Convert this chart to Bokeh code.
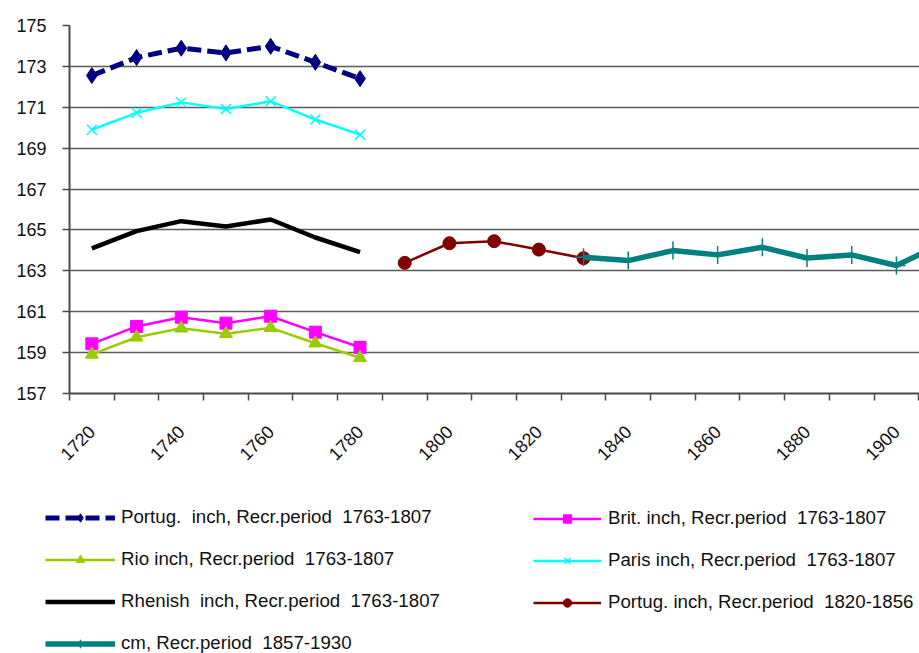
from math import pi
from bokeh.plotting import figure
from bokeh.layouts import column
from bokeh.models import FixedTicker, Legend, LegendItem, Range1d
from bokeh.embed import file_html
from bokeh.resources import INLINE

# ---- data ----
years_1763 = [1720, 1730, 1740, 1750, 1760, 1770, 1780]
portug_1763 = [172.55, 173.43, 173.89, 173.66, 173.98, 173.20, 172.40]
brit_1763 = [159.43, 160.28, 160.73, 160.44, 160.78, 160.00, 159.26]
rio_1763 = [158.91, 159.75, 160.19, 159.92, 160.21, 159.46, 158.75]
paris_1763 = [169.90, 170.73, 171.24, 170.92, 171.29, 170.40, 169.66]
rhenish_1763 = [164.10, 164.94, 165.43, 165.17, 165.51, 164.63, 163.91]

years_1820 = [1790, 1800, 1810, 1820, 1830]
portug_1820 = [163.39, 164.35, 164.45, 164.04, 163.62]

years_cm = [1830, 1840, 1850, 1860, 1870, 1880, 1890, 1900, 1910]
cm_1857 = [163.67, 163.50, 163.99, 163.78, 164.15, 163.63, 163.78, 163.26, 164.30]

all_years = list(range(1720, 1911, 10))
x_tick_labels = [1720, 1740, 1760, 1780, 1800, 1820, 1840, 1860, 1880, 1900]
y_ticks = [157, 159, 161, 163, 165, 167, 169, 171, 173, 175]

labels = [
    "Portug.  inch, Recr.period  1763-1807",
    "Brit. inch, Recr.period  1763-1807",
    "Rio inch, Recr.period  1763-1807",
    "Paris inch, Recr.period  1763-1807",
    "Rhenish  inch, Recr.period  1763-1807",
    "Portug. inch, Recr.period  1820-1856",
    "cm, Recr.period  1857-1930",
]

series = [
    dict(x=years_1763, y=portug_1763, color="#000080", lw=5, dash="14 6", marker="diamond", size=16),
    dict(x=years_1763, y=brit_1763, color="#FF00FF", lw=2.5, dash="solid", marker="square", size=12),
    dict(x=years_1763, y=rio_1763, color="#99CC00", lw=2.5, dash="solid", marker="triangle", size=13),
    dict(x=years_1763, y=paris_1763, color="#00FFFF", lw=2.5, dash="solid", marker="x", size=14),
    dict(x=years_1763, y=rhenish_1763, color="#000000", lw=4.5, dash="solid", marker=None, size=0),
    dict(x=years_1820, y=portug_1820, color="#800000", lw=2.5, dash="solid", marker="circle", size=13),
    dict(x=years_cm, y=cm_1857, color="#008080", lw=5.5, dash="solid", marker="cross", size=18),
]

FONT = "Liberation Sans"
AXIS_COL = "#4a4a4a"
TOP_H = 500

p = figure(width=919, height=TOP_H, output_backend="svg", toolbar_location=None,
           x_range=Range1d(1715, 1905.16), y_range=Range1d(157, 175),
           min_border_left=69, min_border_right=0, min_border_top=25,
           min_border_bottom=TOP_H - 393)
p.outline_line_color = None
p.background_fill_color = "white"
p.border_fill_color = "white"

p.xgrid.visible = False
p.ygrid.grid_line_color = "#5a5a5a"
p.ygrid.grid_line_width = 1.5
p.ygrid.ticker = FixedTicker(ticks=y_ticks)

p.yaxis.ticker = FixedTicker(ticks=y_ticks, minor_ticks=[])
p.yaxis.axis_line_color = AXIS_COL
p.yaxis.axis_line_width = 2
p.yaxis.major_tick_out = 7
p.yaxis.major_tick_in = 0
p.yaxis.major_tick_line_color = AXIS_COL
p.yaxis.major_tick_line_width = 1.5
p.yaxis.minor_tick_line_color = None
p.yaxis.major_label_text_font = FONT
p.yaxis.major_label_text_font_size = "18px"
p.yaxis.major_label_text_color = "#111111"
p.yaxis.major_label_standoff = 16

p.xaxis.ticker = FixedTicker(ticks=x_tick_labels,
                             minor_ticks=[y - 5 for y in all_years])
p.xaxis.axis_line_color = AXIS_COL
p.xaxis.axis_line_width = 2
p.xaxis.major_tick_line_color = None
p.xaxis.minor_tick_line_color = AXIS_COL
p.xaxis.minor_tick_line_width = 1.5
p.xaxis.minor_tick_out = 7
p.xaxis.minor_tick_in = 0
p.xaxis.major_label_orientation = pi / 4
p.xaxis.major_label_text_font = FONT
p.xaxis.major_label_text_font_size = "18px"
p.xaxis.major_label_text_color = "#111111"
p.xaxis.major_label_standoff = 28


def draw(fig, s):
    rs = [fig.line(s["x"], s["y"], line_color=s["color"], line_width=s["lw"], line_dash=s["dash"])]
    if s["marker"] is not None:
        if s["marker"] in ("x", "cross"):
            rs.append(fig.scatter(s["x"], s["y"], marker=s["marker"], size=s["size"],
                                  line_color=s["color"], line_width=1.5))
        else:
            rs.append(fig.scatter(s["x"], s["y"], marker=s["marker"], size=s["size"],
                                  fill_color=s["color"], line_color=s["color"]))
    return rs


for s in series:
    draw(p, s)

# ---- legend panel (same series drawn out of view, used only as legend glyphs) ----
LEG_H = 653 - TOP_H
p2 = figure(width=919, height=LEG_H, output_backend="svg", toolbar_location=None,
            x_range=Range1d(0, 1), y_range=Range1d(0, 1),
            x_axis_location=None, y_axis_location=None,
            min_border=0, min_border_left=0, min_border_right=0,
            min_border_top=0, min_border_bottom=0)
p2.grid.visible = False
p2.outline_line_color = None
p2.background_fill_color = "white"
p2.border_fill_color = "white"
for fig in (p, p2):
    try:
        fig.frame_align = False
    except Exception:
        pass

leg_r = [draw(p2, s) for s in series]


def make_legend(idxs, loc, gw, standoff):
    lg = Legend(items=[LegendItem(label=labels[i], renderers=leg_r[i]) for i in idxs],
                location=loc, orientation="vertical")
    lg.border_line_color = None
    lg.background_fill_alpha = 0
    lg.padding = 0
    lg.margin = 0
    lg.spacing = 20
    lg.label_height = 21
    lg.glyph_height = 21
    lg.glyph_width = gw
    lg.label_standoff = standoff
    lg.label_text_font = FONT
    lg.label_text_font_size = "18.7px"
    lg.label_text_color = "#111111"
    return lg


p2.add_layout(make_legend([0, 2, 4, 6], (45, -1), 70, 6), "center")
p2.add_layout(make_legend([1, 3, 5], (533, 40), 68, 7), "center")

layout = column(p, p2, spacing=0)
open("out.html", "w").write(file_html(layout, INLINE))
